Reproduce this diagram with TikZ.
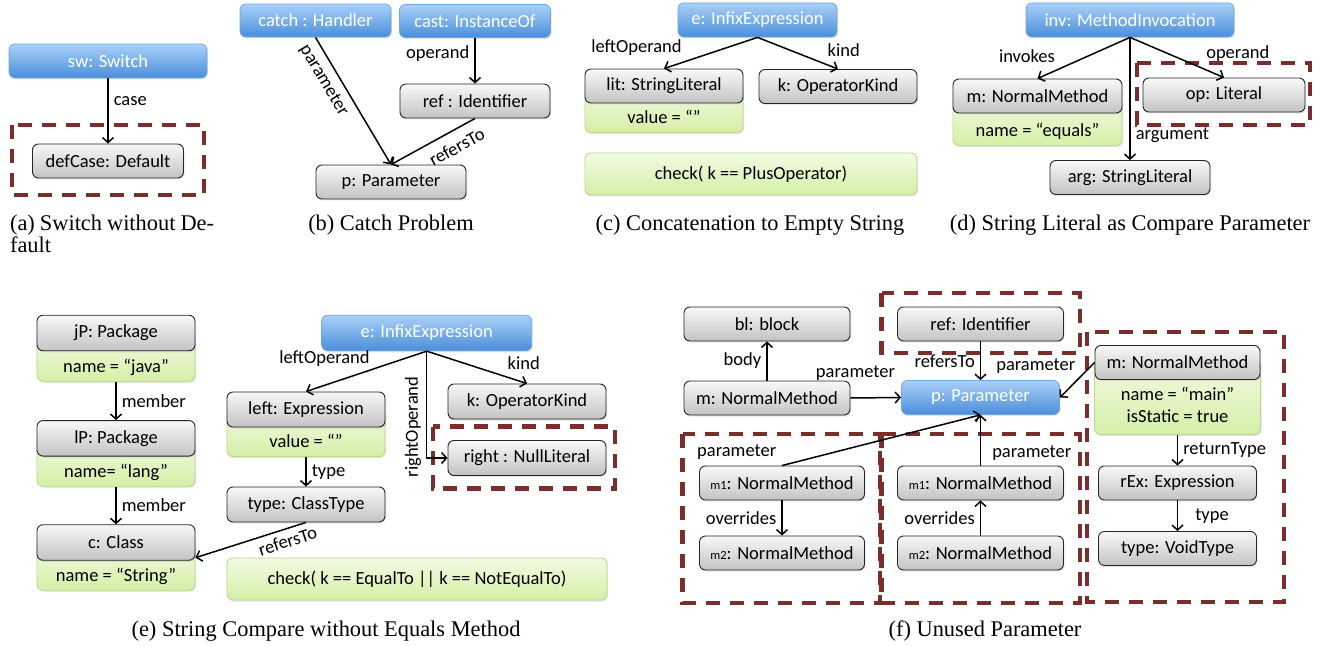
\documentclass[tikz,border=0pt]{standalone}
\usepackage{fontspec}
\setmainfont{Liberation Serif}
\newfontfamily\calibfont{Carlito}
\usetikzlibrary{arrows.meta, positioning, shadows}

\definecolor{instTop}{HTML}{A9D0F8}
\definecolor{instBot}{HTML}{4A8EDA}
\definecolor{instLine}{HTML}{6FA6E0}
\definecolor{objTop}{HTML}{F8F8F8}
\definecolor{objBot}{HTML}{C3C3C3}
\definecolor{attrTop}{HTML}{F3FBE4}
\definecolor{attrBot}{HTML}{D4EFA6}
\definecolor{attrLine}{HTML}{B8DA8C}
\definecolor{negRed}{HTML}{7B2D2B}

\newcommand{\nodefont}{\calibfont\fontsize{18.5}{21.7}\selectfont}
\newcommand{\capfont}{\fontsize{22.4}{22}\selectfont}
\newcommand{\smallm}[1]{{\fontsize{12.5}{14}\selectfont #1}}

\tikzset{
  umlbox/.style={rectangle, rounded corners=6pt, inner sep=0pt, minimum height=34pt, font=\nodefont,
    drop shadow={opacity=0.2, shadow xshift=1pt, shadow yshift=-1.5pt}},
  inst/.style={umlbox, draw=instLine, line width=0.8pt, top color=instTop, bottom color=instBot, text=white},
  obj/.style={umlbox, draw=black!85, line width=0.9pt, top color=objTop, bottom color=objBot},
  attr/.style={umlbox, anchor=south, draw=attrLine, line width=0.9pt, top color=attrTop, bottom color=attrBot,
    minimum height=0pt, inner ysep=3pt, text height=36pt, text depth=6pt},
  cond/.style={umlbox, draw=attrLine, line width=0.9pt, top color=attrTop, bottom color=attrBot, minimum height=42pt},
  neg/.style={draw=negRed, line width=4.5pt, dash pattern=on 14pt off 10pt},
  lbl/.style={font=\nodefont, inner sep=5pt},
  subcap/.style={font=\capfont, anchor=base},
}

\begin{document}
\begin{tikzpicture}[x=1pt, y=-1pt, ->, >={Straight Barb[length=5pt,width=11pt]}, line width=1.5pt]
\useasboundingbox (0,0) rectangle (1328,647);

% (a) switch without default
\node[inst, minimum width=198pt] (sw) at (108,61) {sw: Switch};
\node[obj, minimum width=151pt] (defCase) at (108,161) {defCase: Default};
\draw[neg] (12,125) rectangle (204,195);
\path (sw.south) edge node[lbl, right, pos=0.35] {case} (defCase.north);
\node[subcap, anchor=base west, align=left] (capA) at (6,252) {\makebox[204pt][s]{(a) Switch without De-}\\fault};

% (b) catch problem
\node[inst, minimum width=151pt, minimum height=33pt] (catch) at (315.5,20.5) {catch : Handler};
\node[inst, minimum width=151pt, minimum height=33pt] (cast) at (475,21) {cast: InstanceOf};
\node[obj, minimum width=150pt] (ref) at (475,101) {ref : Identifier};
\node[obj, minimum width=150pt] (p) at (391,182) {p: Parameter};
\path
  (catch.south) edge node[lbl, sloped, below=2pt, pos=0.28] {parameter} (p.north)
  (cast.south) edge node[lbl, left, pos=0.35] {operand} (ref.north)
  (ref.south) edge node[lbl, sloped, below=4pt, pos=0.31] {refersTo} (p.north);
\node[subcap] (capB) at (391,230) {(b) Catch Problem};

% (c) concatenation to empty string
\node[attr, minimum width=158pt] (litA) at (664,133) {value = “”};
\node[inst, minimum width=159pt] (eC) at (757.5,20) {e: InfixExpression};
\node[obj, minimum width=158pt] (lit) at (664,86) {lit: StringLiteral};
\node[obj, minimum width=158pt] (kC) at (838,86.5) {k: OperatorKind};
\node[cond, minimum width=332pt] (checkC) at (751,174) {check( k == PlusOperator)};
\path
  (eC.south) edge node[lbl, above left, pos=0.75] {leftOperand} (lit.north)
  (eC.south) edge node[lbl, above right, pos=0.8] {kind} (kC.north);
\node[subcap] (capC) at (750,230) {(c) Concatenation to Empty String};

% (d) string literal as compare parameter
\node[attr, minimum width=169pt] (mDA) at (1037.5,146) {name = “equals”};
\node[inst, minimum width=208pt] (inv) at (1130,20) {inv: MethodInvocation};
\node[obj, minimum width=169pt] (mD) at (1037.5,96) {m: NormalMethod};
\node[obj, minimum width=162pt] (op) at (1224,95) {op: Literal};
\node[obj, minimum width=160pt] (arg) at (1130,177.5) {arg: StringLiteral};
\draw[neg] (1137,63) rectangle (1310,125);
\path
  (inv.south) edge node[lbl, above left, pos=0.75] {invokes} (mD.north)
  (inv.south) edge node[lbl, right, pos=0.8] {argument} (arg.north)
  (inv.south) edge node[lbl, above right, pos=0.75] {operand} (op.north);
\node[subcap] (capD) at (1130,230) {(d) String Literal as Compare Parameter};

% (e) string compare without equals method
\node[attr, minimum width=158pt] (jPA) at (116,381.7) {name = “java”};
\node[attr, minimum width=158pt] (lPA) at (116,486.7) {name= “lang”};
\node[attr, minimum width=158pt] (cA) at (116,590.7) {name = “String”};
\node[attr, minimum width=158pt] (leftA) at (306,457) {value = “”};
\node[obj, minimum width=158pt, minimum height=35.5pt] (jP) at (116,333) {jP: Package};
\node[obj, minimum width=158pt, minimum height=35.5pt] (lP) at (116,438.3) {lP: Package};
\node[obj, minimum width=158pt, minimum height=35.5pt] (cE) at (116,542.5) {c: Class};
\node[inst, minimum width=210pt, minimum height=35.5pt] (eE) at (426.7,333) {e: InfixExpression};
\node[obj, minimum width=158pt, minimum height=35pt] (leftE) at (306,409.5) {left: Expression};
\node[obj, minimum width=158pt, minimum height=35pt] (typeE) at (306,504.5) {type: ClassType};
\node[obj, minimum width=158pt, minimum height=35pt] (kE) at (527,401.5) {k: OperatorKind};
\node[obj, minimum width=158pt, minimum height=35pt] (rightE) at (527,458) {right : NullLiteral};
\node[cond, minimum width=380pt] (checkE) at (417,579) {check( k == EqualTo || k == NotEqualTo)};
\draw[neg] (433,426.7) rectangle (615,488.3);
\path
  (jPA.south) edge node[lbl, right] {member} (lP.north)
  (lPA.south) edge node[lbl, right] {member} (cE.north)
  (eE.south) edge node[lbl, above left, inner sep=2pt, pos=0.45] {leftOperand} (leftE.north)
  (eE.south) edge node[lbl, above right, pos=0.75] {kind} (kE.north)
  (leftA.south) edge node[lbl, right] {type} (typeE.north)
  (typeE.south) edge node[lbl, sloped, below, pos=0.2] {refersTo} ([yshift=3pt]cE.south east);
\draw (eE.south) |- node[lbl, rotate=90, anchor=south, pos=0.355] {rightOperand} (rightE.west);
\node[subcap] (capE) at (326,636.5) {(e) String Compare without Equals Method};

% (f) unused parameter
\node[attr, minimum width=166pt, text height=60pt, text depth=9.3pt] (mmA) at (1177.5,435)
  {\begin{tabular}[b]{@{}c@{}}name = “main”\\isStatic = true\end{tabular}};
\node[obj, minimum width=166pt] (bl) at (767,324) {bl: block};
\node[obj, minimum width=166pt] (mF) at (767,398) {m: NormalMethod};
\node[obj, minimum width=166pt] (refF) at (980.5,324) {ref: Identifier};
\node[inst, minimum width=158pt] (pF) at (980.5,397.5) {p: Parameter};
\node[obj, minimum width=165pt] (mm) at (1177.5,362.5) {m: NormalMethod};
\node[obj, minimum width=165pt] (m1L) at (782,483) {\smallm{m1}: NormalMethod};
\node[obj, minimum width=165pt] (m2L) at (782,553) {\smallm{m2}: NormalMethod};
\node[obj, minimum width=166pt] (m1M) at (980.5,483) {\smallm{m1}: NormalMethod};
\node[obj, minimum width=166pt] (m2M) at (980.5,553) {\smallm{m2}: NormalMethod};
\node[obj, minimum width=158pt] (rEx) at (1177.5,483) {rEx: Expression};
\node[obj, minimum width=158pt] (vt) at (1177.5,548.5) {type: VoidType};
\draw[neg] (881.7,293) rectangle (1080,353);
\draw[neg] (682.7,434) rectangle (880,603);
\draw[neg] (881.7,434) rectangle (1080,603);
\draw[neg] (1087,332) rectangle (1284,602);
\path
  (mF.north) edge node[lbl, left] {body} (bl.south)
  (mF.east) edge node[lbl, above=12pt, pos=0.1] {parameter} (pF.west)
  (refF.south) edge node[lbl, left] {refersTo} (pF.north)
  (mm.west) edge node[lbl, left=10pt, pos=0.1] {parameter} (pF.east)
  (m1L.north) edge node[lbl, above left, pos=0] {parameter} (pF.south)
  (m1M.north) edge node[lbl, right=6pt, pos=0.25] {parameter} (pF.south)
  (m1L.south) edge node[lbl, left] {overrides} (m2L.north)
  (m2M.north) edge node[lbl, left] {overrides} (m1M.south)
  (mmA.south) edge node[lbl, right] {returnType} (rEx.north)
  (rEx.south) edge node[lbl, right=12pt] {type} (vt.north);
\node[subcap] (capF) at (985,636.5) {(f) Unused Parameter};

\end{tikzpicture}
\end{document}
